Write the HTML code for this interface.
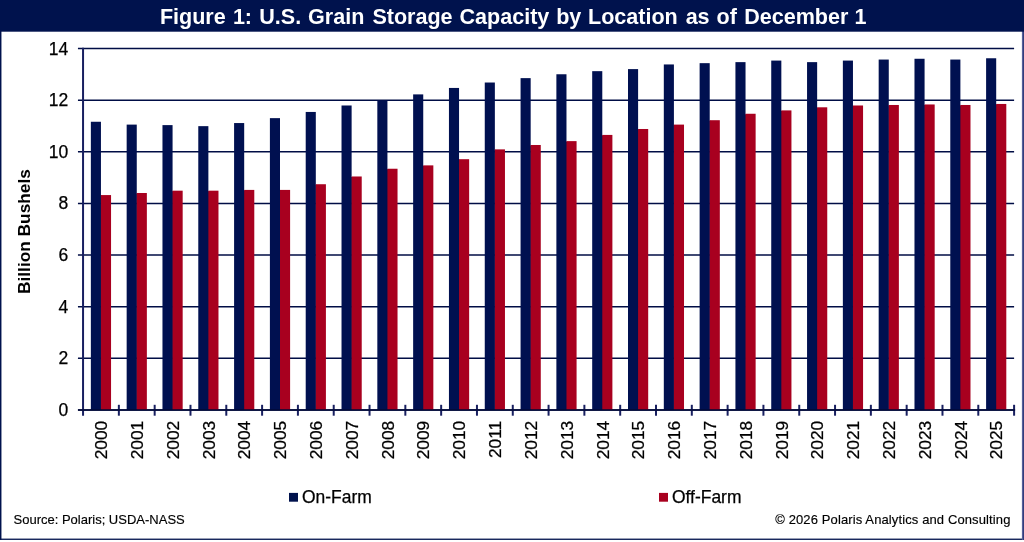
<!DOCTYPE html>
<html><head><meta charset="utf-8"><title>Figure 1</title>
<style>
html,body{margin:0;padding:0;background:#fff;}
body{width:1024px;height:542px;overflow:hidden;position:relative;font-family:"Liberation Sans",Arial,sans-serif;}
svg{position:absolute;left:0;top:0;display:block}
text{font-family:"Liberation Sans",Arial,sans-serif;}
.yl,.xl,#lg1,#lg2{stroke:#000;stroke-width:0.25px;}
#src,#cr{stroke:#000;stroke-width:0.15px;}
</style></head><body>
<svg width="1024" height="542" viewBox="0 0 1024 542">
<rect x="0" y="0" width="1024" height="542" fill="#ffffff"/>
<rect x="0" y="0" width="1.45" height="539.9" fill="#00124d"/>
<rect x="0" y="538.6" width="1024" height="1.3" fill="#00124d"/>
<rect x="1021.9" y="0" width="1.1" height="539.9" fill="#56609a"/><rect x="1023" y="0" width="1" height="539.9" fill="#323d7b"/>
<rect x="0" y="0" width="1024" height="31.7" fill="#00124d"/>
<text y="23.8" font-size="21.55" font-weight="bold" fill="#ffffff" id="title"><tspan x="159.88">Figure</tspan> <tspan x="232.88">1:</tspan> <tspan x="259.25">U.S.</tspan> <tspan x="308.10">Grain</tspan> <tspan x="372.38">Storage</tspan> <tspan x="459.50">Capacity</tspan> <tspan x="556.15">by</tspan> <tspan x="588.00">Location</tspan> <tspan x="685.65">as</tspan> <tspan x="716.50">of</tspan> <tspan x="744.15">December</tspan> <tspan x="854.62">1</tspan></text>

<line x1="77.95" y1="409.95" x2="1014.10" y2="409.95" stroke="#000d45" stroke-width="1.6"/>
<text x="68.2" y="415.95" font-size="17.5" fill="#000" text-anchor="end" class="yl">0</text>
<line x1="77.95" y1="358.32" x2="1014.10" y2="358.32" stroke="#000d45" stroke-width="1.6"/>
<text x="68.2" y="364.32" font-size="17.5" fill="#000" text-anchor="end" class="yl">2</text>
<line x1="77.95" y1="306.69" x2="1014.10" y2="306.69" stroke="#000d45" stroke-width="1.6"/>
<text x="68.2" y="312.69" font-size="17.5" fill="#000" text-anchor="end" class="yl">4</text>
<line x1="77.95" y1="255.06" x2="1014.10" y2="255.06" stroke="#000d45" stroke-width="1.6"/>
<text x="68.2" y="261.06" font-size="17.5" fill="#000" text-anchor="end" class="yl">6</text>
<line x1="77.95" y1="203.44" x2="1014.10" y2="203.44" stroke="#000d45" stroke-width="1.6"/>
<text x="68.2" y="209.44" font-size="17.5" fill="#000" text-anchor="end" class="yl">8</text>
<line x1="77.95" y1="151.81" x2="1014.10" y2="151.81" stroke="#000d45" stroke-width="1.6"/>
<text x="68.2" y="157.81" font-size="17.5" fill="#000" text-anchor="end" class="yl">10</text>
<line x1="77.95" y1="100.18" x2="1014.10" y2="100.18" stroke="#000d45" stroke-width="1.6"/>
<text x="68.2" y="106.18" font-size="17.5" fill="#000" text-anchor="end" class="yl">12</text>
<line x1="77.95" y1="48.55" x2="1014.10" y2="48.55" stroke="#000d45" stroke-width="1.6"/>
<text x="68.2" y="54.55" font-size="17.5" fill="#000" text-anchor="end" class="yl">14</text>
<line x1="83.05" y1="47.75" x2="83.05" y2="415.70" stroke="#181f60" stroke-width="2"/>
<rect x="90.85" y="121.76" width="10.10" height="288.19" fill="#001050"/><rect x="100.45" y="195.57" width="1.3" height="214.38" fill="#001050"/>
<rect x="100.95" y="195.07" width="10.10" height="214.88" fill="#a8001f"/>
<text transform="translate(107.20,420.75) rotate(-90)" font-size="17.35" fill="#000" text-anchor="end" class="xl">2000</text>
<line x1="118.86" y1="404.80" x2="118.86" y2="415.70" stroke="#181f60" stroke-width="2"/>
<rect x="126.66" y="124.60" width="10.10" height="285.35" fill="#001050"/><rect x="136.26" y="193.50" width="1.3" height="216.45" fill="#001050"/>
<rect x="136.76" y="193.00" width="10.10" height="216.95" fill="#a8001f"/>
<text transform="translate(143.01,420.75) rotate(-90)" font-size="17.35" fill="#000" text-anchor="end" class="xl">2001</text>
<line x1="154.67" y1="404.80" x2="154.67" y2="415.70" stroke="#181f60" stroke-width="2"/>
<rect x="162.47" y="125.11" width="10.10" height="284.84" fill="#001050"/><rect x="172.07" y="191.18" width="1.3" height="218.77" fill="#001050"/>
<rect x="172.57" y="190.68" width="10.10" height="219.27" fill="#a8001f"/>
<text transform="translate(178.82,420.75) rotate(-90)" font-size="17.35" fill="#000" text-anchor="end" class="xl">2002</text>
<line x1="190.48" y1="404.80" x2="190.48" y2="415.70" stroke="#181f60" stroke-width="2"/>
<rect x="198.28" y="126.15" width="10.10" height="283.80" fill="#001050"/><rect x="207.88" y="191.18" width="1.3" height="218.77" fill="#001050"/>
<rect x="208.38" y="190.68" width="10.10" height="219.27" fill="#a8001f"/>
<text transform="translate(214.63,420.75) rotate(-90)" font-size="17.35" fill="#000" text-anchor="end" class="xl">2003</text>
<line x1="226.29" y1="404.80" x2="226.29" y2="415.70" stroke="#181f60" stroke-width="2"/>
<rect x="234.09" y="123.05" width="10.10" height="286.90" fill="#001050"/><rect x="243.69" y="190.41" width="1.3" height="219.54" fill="#001050"/>
<rect x="244.19" y="189.91" width="10.10" height="220.04" fill="#a8001f"/>
<text transform="translate(250.44,420.75) rotate(-90)" font-size="17.35" fill="#000" text-anchor="end" class="xl">2004</text>
<line x1="262.10" y1="404.80" x2="262.10" y2="415.70" stroke="#181f60" stroke-width="2"/>
<rect x="269.90" y="118.14" width="10.10" height="291.81" fill="#001050"/><rect x="279.50" y="190.41" width="1.3" height="219.54" fill="#001050"/>
<rect x="280.00" y="189.91" width="10.10" height="220.04" fill="#a8001f"/>
<text transform="translate(286.25,420.75) rotate(-90)" font-size="17.35" fill="#000" text-anchor="end" class="xl">2005</text>
<line x1="297.91" y1="404.80" x2="297.91" y2="415.70" stroke="#181f60" stroke-width="2"/>
<rect x="305.71" y="111.95" width="10.10" height="298.00" fill="#001050"/><rect x="315.31" y="184.73" width="1.3" height="225.22" fill="#001050"/>
<rect x="315.81" y="184.23" width="10.10" height="225.72" fill="#a8001f"/>
<text transform="translate(322.06,420.75) rotate(-90)" font-size="17.35" fill="#000" text-anchor="end" class="xl">2006</text>
<line x1="333.72" y1="404.80" x2="333.72" y2="415.70" stroke="#181f60" stroke-width="2"/>
<rect x="341.52" y="105.49" width="10.10" height="304.46" fill="#001050"/><rect x="351.12" y="176.98" width="1.3" height="232.97" fill="#001050"/>
<rect x="351.62" y="176.48" width="10.10" height="233.47" fill="#a8001f"/>
<text transform="translate(357.87,420.75) rotate(-90)" font-size="17.35" fill="#000" text-anchor="end" class="xl">2007</text>
<line x1="369.53" y1="404.80" x2="369.53" y2="415.70" stroke="#181f60" stroke-width="2"/>
<rect x="377.33" y="100.33" width="10.10" height="309.62" fill="#001050"/><rect x="386.93" y="169.24" width="1.3" height="240.71" fill="#001050"/>
<rect x="387.43" y="168.74" width="10.10" height="241.21" fill="#a8001f"/>
<text transform="translate(393.68,420.75) rotate(-90)" font-size="17.35" fill="#000" text-anchor="end" class="xl">2008</text>
<line x1="405.34" y1="404.80" x2="405.34" y2="415.70" stroke="#181f60" stroke-width="2"/>
<rect x="413.14" y="94.39" width="10.10" height="315.56" fill="#001050"/><rect x="422.74" y="165.88" width="1.3" height="244.07" fill="#001050"/>
<rect x="423.24" y="165.38" width="10.10" height="244.57" fill="#a8001f"/>
<text transform="translate(429.49,420.75) rotate(-90)" font-size="17.35" fill="#000" text-anchor="end" class="xl">2009</text>
<line x1="441.15" y1="404.80" x2="441.15" y2="415.70" stroke="#181f60" stroke-width="2"/>
<rect x="448.95" y="87.94" width="10.10" height="322.01" fill="#001050"/><rect x="458.55" y="159.69" width="1.3" height="250.26" fill="#001050"/>
<rect x="459.05" y="159.19" width="10.10" height="250.76" fill="#a8001f"/>
<text transform="translate(465.30,420.75) rotate(-90)" font-size="17.35" fill="#000" text-anchor="end" class="xl">2010</text>
<line x1="476.96" y1="404.80" x2="476.96" y2="415.70" stroke="#181f60" stroke-width="2"/>
<rect x="484.76" y="82.52" width="10.10" height="327.43" fill="#001050"/><rect x="494.36" y="149.88" width="1.3" height="260.07" fill="#001050"/>
<rect x="494.86" y="149.38" width="10.10" height="260.57" fill="#a8001f"/>
<text transform="translate(501.11,420.75) rotate(-90)" font-size="17.35" fill="#000" text-anchor="end" class="xl">2011</text>
<line x1="512.77" y1="404.80" x2="512.77" y2="415.70" stroke="#181f60" stroke-width="2"/>
<rect x="520.57" y="78.13" width="10.10" height="331.82" fill="#001050"/><rect x="530.17" y="145.49" width="1.3" height="264.46" fill="#001050"/>
<rect x="530.67" y="144.99" width="10.10" height="264.96" fill="#a8001f"/>
<text transform="translate(536.92,420.75) rotate(-90)" font-size="17.35" fill="#000" text-anchor="end" class="xl">2012</text>
<line x1="548.57" y1="404.80" x2="548.57" y2="415.70" stroke="#181f60" stroke-width="2"/>
<rect x="556.38" y="74.26" width="10.10" height="335.69" fill="#001050"/><rect x="565.98" y="141.62" width="1.3" height="268.33" fill="#001050"/>
<rect x="566.48" y="141.12" width="10.10" height="268.83" fill="#a8001f"/>
<text transform="translate(572.73,420.75) rotate(-90)" font-size="17.35" fill="#000" text-anchor="end" class="xl">2013</text>
<line x1="584.38" y1="404.80" x2="584.38" y2="415.70" stroke="#181f60" stroke-width="2"/>
<rect x="592.19" y="71.16" width="10.10" height="338.79" fill="#001050"/><rect x="601.79" y="135.42" width="1.3" height="274.53" fill="#001050"/>
<rect x="602.29" y="134.92" width="10.10" height="275.03" fill="#a8001f"/>
<text transform="translate(608.54,420.75) rotate(-90)" font-size="17.35" fill="#000" text-anchor="end" class="xl">2014</text>
<line x1="620.19" y1="404.80" x2="620.19" y2="415.70" stroke="#181f60" stroke-width="2"/>
<rect x="628.00" y="69.10" width="10.10" height="340.85" fill="#001050"/><rect x="637.60" y="129.49" width="1.3" height="280.46" fill="#001050"/>
<rect x="638.10" y="128.99" width="10.10" height="280.96" fill="#a8001f"/>
<text transform="translate(644.35,420.75) rotate(-90)" font-size="17.35" fill="#000" text-anchor="end" class="xl">2015</text>
<line x1="656.00" y1="404.80" x2="656.00" y2="415.70" stroke="#181f60" stroke-width="2"/>
<rect x="663.81" y="64.45" width="10.10" height="345.50" fill="#001050"/><rect x="673.41" y="125.10" width="1.3" height="284.85" fill="#001050"/>
<rect x="673.91" y="124.60" width="10.10" height="285.35" fill="#a8001f"/>
<text transform="translate(680.16,420.75) rotate(-90)" font-size="17.35" fill="#000" text-anchor="end" class="xl">2016</text>
<line x1="691.81" y1="404.80" x2="691.81" y2="415.70" stroke="#181f60" stroke-width="2"/>
<rect x="699.62" y="63.16" width="10.10" height="346.79" fill="#001050"/><rect x="709.22" y="120.71" width="1.3" height="289.24" fill="#001050"/>
<rect x="709.72" y="120.21" width="10.10" height="289.74" fill="#a8001f"/>
<text transform="translate(715.97,420.75) rotate(-90)" font-size="17.35" fill="#000" text-anchor="end" class="xl">2017</text>
<line x1="727.62" y1="404.80" x2="727.62" y2="415.70" stroke="#181f60" stroke-width="2"/>
<rect x="735.43" y="62.13" width="10.10" height="347.82" fill="#001050"/><rect x="745.03" y="114.26" width="1.3" height="295.69" fill="#001050"/>
<rect x="745.53" y="113.76" width="10.10" height="296.19" fill="#a8001f"/>
<text transform="translate(751.78,420.75) rotate(-90)" font-size="17.35" fill="#000" text-anchor="end" class="xl">2018</text>
<line x1="763.43" y1="404.80" x2="763.43" y2="415.70" stroke="#181f60" stroke-width="2"/>
<rect x="771.24" y="60.58" width="10.10" height="349.37" fill="#001050"/><rect x="780.84" y="110.90" width="1.3" height="299.05" fill="#001050"/>
<rect x="781.34" y="110.40" width="10.10" height="299.55" fill="#a8001f"/>
<text transform="translate(787.59,420.75) rotate(-90)" font-size="17.35" fill="#000" text-anchor="end" class="xl">2019</text>
<line x1="799.24" y1="404.80" x2="799.24" y2="415.70" stroke="#181f60" stroke-width="2"/>
<rect x="807.05" y="62.13" width="10.10" height="347.82" fill="#001050"/><rect x="816.65" y="107.80" width="1.3" height="302.15" fill="#001050"/>
<rect x="817.15" y="107.30" width="10.10" height="302.65" fill="#a8001f"/>
<text transform="translate(823.40,420.75) rotate(-90)" font-size="17.35" fill="#000" text-anchor="end" class="xl">2020</text>
<line x1="835.05" y1="404.80" x2="835.05" y2="415.70" stroke="#181f60" stroke-width="2"/>
<rect x="842.86" y="60.58" width="10.10" height="349.37" fill="#001050"/><rect x="852.46" y="105.99" width="1.3" height="303.96" fill="#001050"/>
<rect x="852.96" y="105.49" width="10.10" height="304.46" fill="#a8001f"/>
<text transform="translate(859.21,420.75) rotate(-90)" font-size="17.35" fill="#000" text-anchor="end" class="xl">2021</text>
<line x1="870.86" y1="404.80" x2="870.86" y2="415.70" stroke="#181f60" stroke-width="2"/>
<rect x="878.67" y="59.55" width="10.10" height="350.40" fill="#001050"/><rect x="888.27" y="105.48" width="1.3" height="304.47" fill="#001050"/>
<rect x="888.77" y="104.98" width="10.10" height="304.97" fill="#a8001f"/>
<text transform="translate(895.02,420.75) rotate(-90)" font-size="17.35" fill="#000" text-anchor="end" class="xl">2022</text>
<line x1="906.67" y1="404.80" x2="906.67" y2="415.70" stroke="#181f60" stroke-width="2"/>
<rect x="914.48" y="58.77" width="10.10" height="351.18" fill="#001050"/><rect x="924.08" y="104.96" width="1.3" height="304.99" fill="#001050"/>
<rect x="924.58" y="104.46" width="10.10" height="305.49" fill="#a8001f"/>
<text transform="translate(930.83,420.75) rotate(-90)" font-size="17.35" fill="#000" text-anchor="end" class="xl">2023</text>
<line x1="942.48" y1="404.80" x2="942.48" y2="415.70" stroke="#181f60" stroke-width="2"/>
<rect x="950.29" y="59.55" width="10.10" height="350.40" fill="#001050"/><rect x="959.89" y="105.48" width="1.3" height="304.47" fill="#001050"/>
<rect x="960.39" y="104.98" width="10.10" height="304.97" fill="#a8001f"/>
<text transform="translate(966.64,420.75) rotate(-90)" font-size="17.35" fill="#000" text-anchor="end" class="xl">2024</text>
<line x1="978.29" y1="404.80" x2="978.29" y2="415.70" stroke="#181f60" stroke-width="2"/>
<rect x="986.10" y="58.26" width="10.10" height="351.69" fill="#001050"/><rect x="995.70" y="104.45" width="1.3" height="305.50" fill="#001050"/>
<rect x="996.20" y="103.95" width="10.10" height="306.00" fill="#a8001f"/>
<text transform="translate(1002.45,420.75) rotate(-90)" font-size="17.35" fill="#000" text-anchor="end" class="xl">2025</text>
<line x1="1014.10" y1="404.80" x2="1014.10" y2="415.70" stroke="#181f60" stroke-width="2"/>
<line x1="77.95" y1="409.95" x2="1015.10" y2="409.95" stroke="#000936" stroke-width="1.6"/>
<text transform="translate(30.35,231.6) rotate(-90)" font-size="17.3" font-weight="bold" fill="#000" text-anchor="middle" id="ytitle">Billion Bushels</text>
<rect x="289" y="492.9" width="9" height="8.8" fill="#00124d"/>
<text x="302.0" y="502.9" font-size="17.45" fill="#000" id="lg1">On-Farm</text>
<rect x="659" y="492.9" width="9" height="8.8" fill="#a8001f"/>
<text x="672.0" y="502.9" font-size="17.45" fill="#000" id="lg2">Off-Farm</text>
<text x="13.5" y="523.8" font-size="13" fill="#000" id="src">Source: Polaris; USDA-NASS</text>
<text x="775.2" y="523.8" font-size="13" fill="#000" textLength="235.2" lengthAdjust="spacing" id="cr">© 2026 Polaris Analytics and Consulting</text>
</svg></body></html>
